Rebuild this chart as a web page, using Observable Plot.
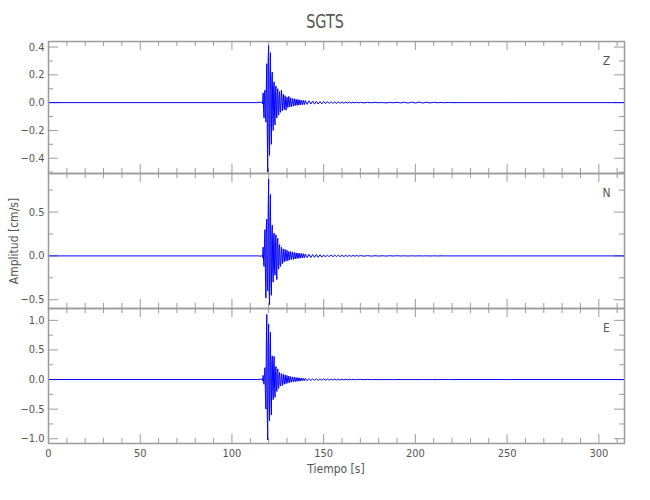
<!DOCTYPE html>
<html>
<head>
<meta charset="utf-8">
<script src="https://cdn.jsdelivr.net/npm/d3@7"></script>
<script src="https://cdn.jsdelivr.net/npm/@observablehq/plot@0.6"></script>
<style>
  body { margin: 0; background: #fff; }
  #chart { position: relative; width: 650px; height: 500px; font-family: "DejaVu Sans Condensed", "Liberation Sans Narrow", sans-serif; color: #555; }
  .lbl { position: absolute; white-space: nowrap; }
  #chart svg { position: absolute; left: 0; overflow: visible; }
</style>
</head>
<body>
<div id="chart"></div>
<script>
// ---- Data ----
const title = "SGTS";
const xLabel = "Tiempo [s]";
const yLabel = "Amplitud [cm/s]";
const components = ["Z", "N", "E"];

const times = [
  0, 114, 116,
  116.5, 116.75, 117, 117.25, 117.5, 117.75, 118, 118.25,
  118.5, 118.75, 119, 119.25, 119.5, 119.75, 120, 120.25,
  120.5, 120.75, 121, 121.25, 121.5, 121.75, 122, 122.25,
  122.5, 122.75, 123, 123.25, 123.5, 123.75, 124, 124.25,
  124.5, 124.75, 125, 125.25, 125.5, 125.75, 126, 126.25,
  126.5, 127, 127.5, 128,
  128.5, 129, 129.5, 130, 130.5, 131, 131.5, 132,
  132.5, 133, 133.5, 134, 134.5, 135, 135.5, 136,
  136.5, 137, 137.5, 138, 138.5, 139, 139.5, 140,
  141, 142, 143, 144, 145, 146, 147, 148, 149, 150,
  151, 152, 153, 154, 155, 156, 157, 158, 159, 160,
  161, 162, 163, 164, 165, 166, 167, 168, 169, 170,
  172, 174, 176, 178, 180, 182, 184, 186, 188, 190,
  192, 194, 196, 198, 200, 202, 204, 206, 208, 210,
  212, 214, 216, 218, 220,
  250, 314
];

const zValues = [
  0, 0, 0.003,
  0.005, -0.01, 0.07, -0.05, -0.11, 0.06, 0.09, -0.08,
  -0.14, 0.12, 0.28, -0.2, -0.5, 0.3, 0.41, -0.25,
  -0.38, 0.2, 0.36, -0.15, -0.3, 0.18, 0.22, -0.12,
  -0.2, 0.12, 0.15, -0.1, -0.16, 0.08, 0.12, -0.09,
  -0.11, 0.07, 0.1, -0.06, -0.09, 0.05, 0.08, -0.06,
  -0.07, 0.09, -0.06, 0.06,
  -0.05, 0.05, -0.055, 0.04, -0.035, 0.045, -0.03, 0.035,
  -0.03, 0.03, -0.025, 0.028, -0.022, 0.025, -0.02, 0.022,
  -0.018, 0.02, -0.016, 0.018, -0.015, 0.016, -0.014, 0.015,
  -0.012, 0.013, -0.01, 0.012, -0.011, 0.009, -0.01, 0.008, -0.009, 0.008,
  -0.007, 0.008, -0.006, 0.007, -0.006, 0.005, -0.006, 0.005, -0.004, 0.005,
  -0.004, 0.004, -0.003, 0.004, -0.003, 0.003, -0.002, 0.003, -0.002, 0.002,
  -0.002, 0.002, -0.001, 0.002, -0.001, 0.001, -0.002, 0.001, -0.001, 0.002,
  -0.002, 0.003, -0.003, 0.004, -0.003, 0.004, -0.003, 0.003, -0.002, 0.002,
  -0.001, 0.001, -0.001, 0.001, 0,
  0, 0
];

const nValues = [
  0, 0, -0.003,
  0.008, -0.02, 0.1, -0.06, -0.12, 0.15, 0.3, -0.2,
  -0.48, 0.35, 0.42, -0.3, -0.4, 0.5, 0.88, -0.35,
  -0.56, 0.45, 0.7, -0.3, -0.45, 0.25, 0.35, -0.2,
  -0.3, 0.2, 0.26, -0.18, -0.22, 0.15, 0.24, -0.2,
  -0.27, 0.15, 0.2, -0.12, -0.15, 0.1, 0.13, -0.1,
  -0.12, 0.1, -0.09, 0.08,
  -0.07, 0.075, -0.06, 0.065, -0.055, 0.05, -0.045, 0.05,
  -0.04, 0.045, -0.04, 0.04, -0.035, 0.035, -0.03, 0.032,
  -0.028, 0.03, -0.025, 0.027, -0.024, 0.025, -0.022, 0.022,
  -0.02, 0.018, -0.019, 0.016, -0.017, 0.015, -0.016, 0.013, -0.014, 0.012,
  -0.012, 0.011, -0.01, 0.011, -0.009, 0.01, -0.008, 0.009, -0.008, 0.007,
  -0.007, 0.006, -0.006, 0.006, -0.005, 0.005, -0.004, 0.005, -0.004, 0.004,
  -0.003, 0.003, -0.003, 0.002, -0.002, 0.002, -0.002, 0.002, -0.001, 0.002,
  -0.001, 0.001, -0.001, 0.001, -0.001, 0.001, -0.001, 0.001, -0.001, 0.001,
  -0.001, 0.001, 0, 0, 0,
  0, 0
];

const eValues = [
  0, 0, 0.004,
  0.01, -0.02, 0.07, -0.05, -0.08, 0.12, 0.2, -0.25,
  -0.5, 0.6, 1.1, -0.6, -1.02, 0.5, 0.94, -0.4,
  -0.7, 0.5, 0.8, -0.35, -0.6, 0.3, 0.4, -0.2,
  -0.34, 0.25, 0.39, -0.15, -0.3, 0.15, 0.22, -0.12,
  -0.2, 0.12, 0.18, -0.1, -0.15, 0.08, 0.12, -0.08,
  -0.11, 0.1, -0.1, 0.09,
  -0.08, 0.08, -0.07, 0.07, -0.06, 0.06, -0.05, 0.05,
  -0.045, 0.045, -0.04, 0.04, -0.035, 0.035, -0.03, 0.03,
  -0.028, 0.028, -0.025, 0.025, -0.022, 0.022, -0.02, 0.02,
  -0.018, 0.016, -0.017, 0.014, -0.015, 0.013, -0.014, 0.012, -0.012, 0.011,
  -0.011, 0.01, -0.01, 0.009, -0.009, 0.008, -0.008, 0.007, -0.007, 0.006,
  -0.006, 0.006, -0.005, 0.005, -0.005, 0.004, -0.004, 0.004, -0.003, 0.003,
  -0.003, 0.003, -0.002, 0.002, -0.002, 0.002, -0.002, 0.001, -0.001, 0.001,
  -0.001, 0.001, -0.001, 0.001, -0.001, 0.001, -0.001, 0.001, -0.001, 0.001,
  -0.001, 0.001, 0, 0, 0,
  0, 0
];

const xDomain = [0, 314];
const xMajorTicks = [0, 50, 100, 150, 200, 250, 300];
const xMinorTicks = [10, 20, 30, 40, 60, 70, 80, 90, 110, 120, 130, 140, 160, 170, 180, 190, 210, 220, 230, 240, 260, 270, 280, 290, 310];

const zDomain = [-0.51, 0.44];
const zMajor = [-0.4, -0.2, 0, 0.2, 0.4];
const zMinor = [-0.5, -0.3, -0.1, 0.1, 0.3];

const nDomain = [-0.6, 0.94];
const nMajor = [-0.5, 0, 0.5];
const nMinor = [-0.25, 0.25, 0.75];

const eDomain = [-1.08, 1.2];
const eMajor = [-1.0, -0.5, 0, 0.5, 1.0];
const eMinor = [-0.75, -0.25, 0.25, 0.75];

// ---- Layout ----
const W = 650, ML = 48, MR = 26;
const frameW = W - ML - MR;
const axisColor = "#9a9a9a";
const textColor = "#555";
const fontFamily = '"DejaVu Sans Condensed", "Liberation Sans Narrow", sans-serif';

const chart = document.getElementById("chart");

function makePanel(values, domain, major, minor, letter, top, h, showX) {
  const data = times.map((t, i) => ({t, v: values[i]}));
  const mb = showX ? 22 : 0;
  const fmt = d3.format(".1f");
  const svg = Plot.plot({
    width: W,
    height: h + mb,
    marginLeft: ML, marginRight: MR, marginTop: 0, marginBottom: mb,
    style: {fontFamily, fontSize: "11px", color: textColor, background: "transparent", overflow: "visible"},
    x: {domain: xDomain, ticks: showX ? xMajorTicks : [], tickSize: 0, tickPadding: 6, tickFormat: d3.format("d"), label: null, axis: showX ? "bottom" : null},
    y: {domain: domain, ticks: major, tickSize: 0, tickPadding: 4, tickFormat: fmt, label: null},
    marks: [
      // inward ticks: top & bottom
      Plot.ruleX(xMinorTicks, {x: d => d, insetBottom: h - 5, stroke: axisColor}),
      Plot.ruleX(xMajorTicks, {x: d => d, insetBottom: h - 9, stroke: axisColor}),
      Plot.ruleX(xMinorTicks, {x: d => d, insetTop: h - 5, stroke: axisColor}),
      Plot.ruleX(xMajorTicks, {x: d => d, insetTop: h - 9, stroke: axisColor}),
      // inward ticks: left & right
      Plot.ruleY(minor, {y: d => d, insetRight: frameW - 5, stroke: axisColor}),
      Plot.ruleY(major, {y: d => d, insetRight: frameW - 10, stroke: axisColor}),
      Plot.ruleY(minor, {y: d => d, insetLeft: frameW - 5, stroke: axisColor}),
      Plot.ruleY(major, {y: d => d, insetLeft: frameW - 10, stroke: axisColor}),
      Plot.line(data, {x: "t", y: "v", stroke: "#0000ff", strokeWidth: 1, clip: true}),
      Plot.frame({stroke: axisColor, strokeWidth: 1.5}),
      Plot.text([letter], {frameAnchor: "top-right", dx: -18, dy: 20, text: d => d, fill: textColor, fontSize: 12, textAnchor: "middle", lineAnchor: "middle"})
    ]
  });
  svg.style.top = top + "px";
  chart.appendChild(svg);
}

makePanel(zValues, zDomain, zMajor, zMinor, components[0], 41, 132, false);
makePanel(nValues, nDomain, nMajor, nMinor, components[1], 173, 135, false);
makePanel(eValues, eDomain, eMajor, eMinor, components[2], 308, 135, true);

function addLabel(text, css) {
  const d = document.createElement("div");
  d.className = "lbl";
  d.textContent = text;
  Object.assign(d.style, css);
  chart.appendChild(d);
}
addLabel(title, {left: "0", width: "650px", textAlign: "center", top: "9px", fontSize: "20px", transform: "scaleX(0.8)"});
addLabel(xLabel, {left: "286px", width: "100px", textAlign: "center", top: "462px", fontSize: "12px"});
addLabel(yLabel, {left: "-46px", width: "120px", textAlign: "center", top: "234px", fontSize: "12px", transform: "rotate(-90deg)"});
</script>
</body>
</html>
